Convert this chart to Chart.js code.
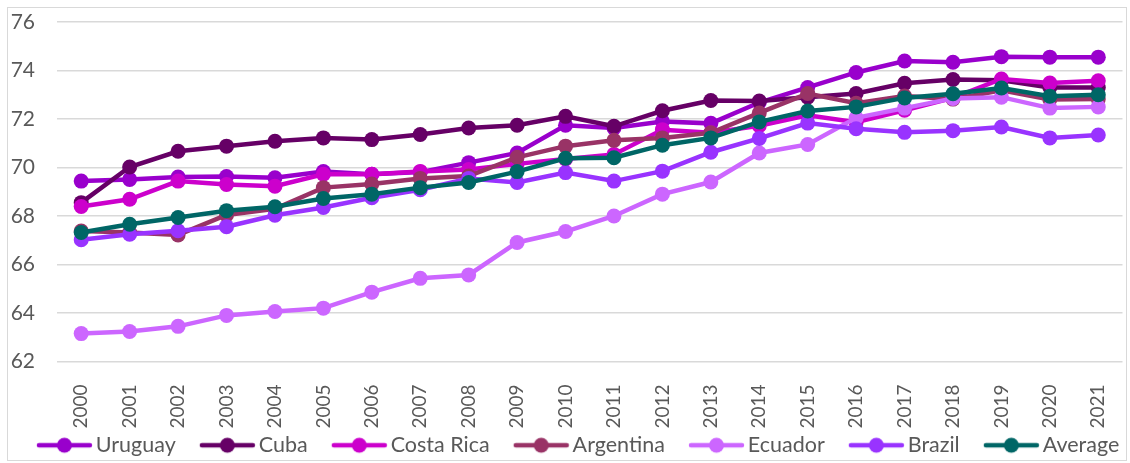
<!DOCTYPE html>
<html>
<head>
<meta charset="utf-8">
<script src="https://cdn.jsdelivr.net/npm/chart.js@4.4.1/dist/chart.umd.min.js"></script>
<style>
html,body{margin:0;padding:0;background:#fff;}
#wrap{position:relative;width:1130px;height:463px;}
</style>
</head>
<body>
<div id="wrap"><canvas id="c" width="1130" height="463"></canvas></div>
<script>
const years = ["2000","2001","2002","2003","2004","2005","2006","2007","2008","2009","2010","2011","2012","2013","2014","2015","2016","2017","2018","2019","2020","2021"];
const seriesNames = ["Uruguay","Cuba","Costa Rica","Argentina","Ecuador","Brazil","Average"];
const uruguay   = [69.44,69.51,69.61,69.63,69.58,69.83,69.72,69.81,70.20,70.60,71.74,71.63,71.90,71.82,72.68,73.30,73.92,74.39,74.34,74.57,74.55,74.55];
const cuba      = [68.55,70.02,70.67,70.88,71.08,71.22,71.15,71.36,71.63,71.74,72.11,71.70,72.34,72.76,72.74,72.90,73.05,73.47,73.63,73.60,73.30,73.30];
const costaRica = [68.39,68.69,69.44,69.30,69.23,69.72,69.72,69.84,69.92,70.15,70.35,70.54,71.56,71.43,71.72,72.15,71.87,72.36,72.87,73.65,73.48,73.58];
const argentina = [67.38,67.32,67.22,68.04,68.30,69.17,69.32,69.55,69.65,70.42,70.88,71.12,71.22,71.43,72.25,73.05,72.65,72.95,72.82,73.18,72.80,72.82];
const ecuador   = [63.15,63.24,63.45,63.90,64.06,64.20,64.86,65.43,65.57,66.91,67.36,68.00,68.90,69.40,70.60,70.95,72.05,72.45,72.85,72.90,72.45,72.50];
const brazil    = [67.02,67.25,67.39,67.56,68.03,68.35,68.75,69.08,69.55,69.38,69.79,69.44,69.85,70.63,71.20,71.83,71.60,71.45,71.52,71.67,71.22,71.34];
const average   = [67.32,67.66,67.94,68.22,68.38,68.72,68.90,69.17,69.38,69.83,70.38,70.40,70.92,71.22,71.88,72.33,72.50,72.87,73.04,73.28,72.94,73.00];
const colors = ["#9900CC","#660066","#CC00CC","#993366","#CC66FF","#9933FF","#006666"];
const allValues = [uruguay,cuba,costaRica,argentina,ecuador,brazil,average];
const yTickMin = 62, yTickMax = 76, yTickStep = 2;

const LEG_FONT = 21.5, LEG_PAD = 4, LEG_L = 19, ICON_W = 57, ICON_GAP = 3;
const LEG_BOX = LEG_L + ICON_W + ICON_GAP - LEG_FONT / 2;
function legendIcon(color){
  const cw = 2 * (LEG_L + ICON_W) - LEG_BOX;
  const cv = document.createElement('canvas');
  cv.width = Math.round(cw); cv.height = 18;
  const g = cv.getContext('2d');
  const x0 = cv.width - ICON_W;
  g.strokeStyle = color; g.lineWidth = 4.5; g.lineCap = 'round';
  g.beginPath(); g.moveTo(x0 + 3, 9); g.lineTo(x0 + ICON_W - 3, 9); g.stroke();
  g.fillStyle = color; g.beginPath(); g.arc(x0 + ICON_W / 2, 9, 7.5, 0, Math.PI * 2); g.fill();
  return cv;
}
const icons = colors.map(legendIcon);

const datasets = seriesNames.map((name,i)=>({
  label: name,
  data: allValues[i],
  borderColor: colors[i],
  backgroundColor: colors[i],
  pointBackgroundColor: colors[i],
  pointBorderColor: colors[i],
  borderWidth: 4.5,
  pointRadius: 7.5,
  pointHoverRadius: 7.5,
  pointBorderWidth: 0,
  tension: 0,
  fill: false,
  order: seriesNames.length - i
}));

const frame = {
  id: 'frame',
  beforeDraw(chart){
    const ctx = chart.ctx;
    ctx.save();
    ctx.fillStyle = '#ffffff';
    ctx.fillRect(0,0,chart.width,chart.height);
    ctx.strokeStyle = '#d9d9d9';
    ctx.lineWidth = 1;
    ctx.strokeRect(7.5, 7.5, 1119, 453);
    ctx.restore();
  }
};

new Chart(document.getElementById('c'), {
  type: 'line',
  data: { labels: years, datasets },
  plugins: [frame],
  options: {
    responsive: false,
    animation: false,
    devicePixelRatio: 1,
    layout: { padding: { left: 11, right: 5, top: 22, bottom: -3 } },
    plugins: {
      tooltip: { enabled: false },
      legend: {
        position: 'bottom',
        labels: {
          usePointStyle: true,
          pointStyleWidth: LEG_BOX,
          padding: LEG_PAD,
          color: '#595959',
          font: { family: 'Lato', size: LEG_FONT },
          generateLabels(chart){
            return chart.data.datasets.map((ds,i)=>({
              text: ds.label,
              fillStyle: ds.borderColor,
              strokeStyle: ds.borderColor,
              lineWidth: 0,
              pointStyle: icons[i],
              hidden: false,
              datasetIndex: i,
              fontColor: '#595959'
            }));
          }
        }
      }
    },
    scales: {
      x: {
        offset: true,
        grid: { display: false, drawTicks: false },
        border: { display: false },
        ticks: { minRotation: 90, maxRotation: 90, autoSkip: false, padding: 23, color: '#595959', font: { family: 'Lato', size: 19 } },
        afterFit(s){ s.height = 69; s.paddingLeft = 0; s.paddingRight = 0; }
      },
      y: {
        min: yTickMin, max: yTickMax,
        grid: { color: '#d9d9d9', lineWidth: 1.5, drawTicks: false },
        border: { display: false },
        ticks: { stepSize: yTickStep, padding: 22, color: '#595959', font: { family: 'Lato', size: 21 } },
        afterFit(s){ s.width = 46; s.paddingTop = 0; s.paddingBottom = 0; }
      }
    }
  }
});
</script>
</body>
</html>
